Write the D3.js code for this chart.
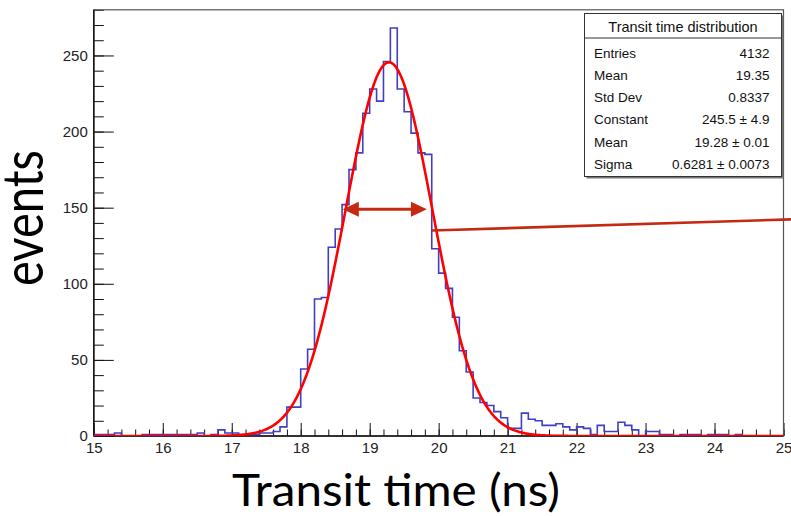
<!DOCTYPE html>
<html>
<head>
<meta charset="utf-8">
<script src="https://cdn.jsdelivr.net/npm/d3@7"></script>
<style>
  html, body { margin: 0; padding: 0; background: #fff; }
  svg { display: block; }
  .tick text { font-family: "Liberation Sans", Arial, sans-serif; fill: #222; }
</style>
</head>
<body>
<svg id="chart" width="791" height="516"></svg>
<script>
// Histogram: 100 bins of 0.1 ns from 15 to 25 ns
const binStart = 15;
const binWidth = 0.1;
const counts = [
  1, 1, 1, 2, 0, 0, 0, 1, 1, 1,
  1, 1, 1, 1, 1, 2, 0, 1, 4, 2,
  2, 1, 1, 1, 2, 2, 3, 6, 19, 19,
  44, 57, 90, 91, 124, 136, 152, 175, 186, 212,
  228, 220, 246, 268, 228, 213, 199, 186, 185, 123,
  107, 97, 78, 56, 42, 25, 22, 20, 16, 12,
  5, 5, 15, 11, 10, 7, 7, 8, 6, 4,
  6, 5, 1, 7, 3, 3, 9, 7, 4, 0,
  3, 3, 1, 1, 0, 1, 1, 1, 0, 1,
  1, 1, 0, 1, 0, 0, 0, 0, 0, 0
];

// Gaussian fit parameters
const fitConstant = 245.5;
const fitMean = 19.28;
const fitSigma = 0.6281;

// Axis ticks
const xMajorTicks = [15, 16, 17, 18, 19, 20, 21, 22, 23, 24, 25];
const yMajorTicks = [0, 50, 100, 150, 200, 250];

// Statistics box
const statsTitle = "Transit time distribution";
const statLabels = ["Entries", "Mean", "Std Dev", "Constant", "Mean", "Sigma"];
const statValues = ["4132", "19.35", "0.8337", "245.5 \u00b1 4.9", "19.28 \u00b1 0.01", "0.6281 \u00b1 0.0073"];

// Annotations (data coordinates)
const widthArrow = { x1: 18.61, x2: 19.83, y: 149 };
const pointerLine = { x1: 19.9, y1: 135, x2: 25.11, y2: 142.3 };

const svg = d3.select("#chart");
const frame = { left: 93.8, right: 783.5, top: 9.8, bottom: 436 };

const x = d3.scaleLinear().domain([15, 25]).range([frame.left, frame.right]);
const y = d3.scaleLinear().domain([0, 280]).range([frame.bottom, frame.top]);

svg.append("defs").append("clipPath").attr("id", "plotClip")
  .append("rect")
  .attr("x", frame.left).attr("y", frame.top)
  .attr("width", frame.right - frame.left).attr("height", frame.bottom - frame.top);

// Minor ticks
const xMinor = d3.range(150, 251, 2).map(v => v / 10);
const yMinor = d3.range(0, 281, 10);

svg.append("g")
  .attr("transform", `translate(0,${frame.bottom})`)
  .call(d3.axisBottom(x).tickValues(xMinor).tickSizeInner(-6.5).tickSizeOuter(0).tickFormat(""))
  .call(g => g.select(".domain").remove())
  .selectAll("line").attr("stroke", "#111");

svg.append("g")
  .attr("transform", `translate(${frame.left},0)`)
  .call(d3.axisLeft(y).tickValues(yMinor).tickSizeInner(-10).tickSizeOuter(0).tickFormat(""))
  .call(g => g.select(".domain").remove())
  .selectAll("line").attr("stroke", "#111");

// Major ticks with labels
const xAxis = svg.append("g")
  .attr("transform", `translate(0,${frame.bottom})`)
  .call(d3.axisBottom(x).tickValues(xMajorTicks).tickSizeInner(-13).tickSizeOuter(0).tickPadding(6).tickFormat(d3.format("d")))
  .call(g => g.select(".domain").remove());
xAxis.selectAll("line").attr("stroke", "#111");
xAxis.selectAll("text").attr("font-size", 15);

const yAxis = svg.append("g")
  .attr("transform", `translate(${frame.left},0)`)
  .call(d3.axisLeft(y).tickValues(yMajorTicks).tickSizeInner(-20).tickSizeOuter(0).tickPadding(6).tickFormat(d3.format("d")))
  .call(g => g.select(".domain").remove());
yAxis.selectAll("line").attr("stroke", "#111");
yAxis.selectAll("text").attr("font-size", 15);

// Frame
svg.append("rect")
  .attr("x", frame.left).attr("y", frame.top)
  .attr("width", frame.right - frame.left).attr("height", frame.bottom - frame.top)
  .attr("fill", "none").attr("stroke", "#555").attr("stroke-width", 1.2);
svg.append("line")
  .attr("x1", frame.left).attr("x2", frame.left).attr("y1", frame.top).attr("y2", frame.bottom)
  .attr("stroke", "#111").attr("stroke-width", 1.5);
svg.append("line")
  .attr("x1", frame.left).attr("x2", frame.right).attr("y1", frame.bottom).attr("y2", frame.bottom)
  .attr("stroke", "#111").attr("stroke-width", 1.5);

// Histogram outline
const histPath = d3.path();
histPath.moveTo(x(binStart), y(0));
counts.forEach((c, i) => {
  const x0 = x(binStart + i * binWidth);
  const x1 = x(binStart + (i + 1) * binWidth);
  histPath.lineTo(x0, y(c));
  histPath.lineTo(x1, y(c));
});
histPath.lineTo(x(binStart + counts.length * binWidth), y(0));

svg.append("path")
  .attr("d", histPath.toString())
  .attr("clip-path", "url(#plotClip)")
  .attr("fill", "none")
  .attr("stroke", "#3f3fc4")
  .attr("stroke-width", 1.6);

// Gaussian fit curve
const gauss = t => fitConstant * Math.exp(-0.5 * Math.pow((t - fitMean) / fitSigma, 2));
const curvePts = d3.range(0, 1001).map(i => 15 + i * 0.01);
svg.append("path")
  .datum(curvePts)
  .attr("clip-path", "url(#plotClip)")
  .attr("d", d3.line().x(t => x(t)).y(t => y(gauss(t))))
  .attr("fill", "none")
  .attr("stroke", "#ff0000")
  .attr("stroke-width", 2.6);

// Width arrow
const arrowColor = "#c42a12";
const ay = y(widthArrow.y);
const ax1 = x(widthArrow.x1), ax2 = x(widthArrow.x2);
const headLen = 16, headHalf = 7.5;
svg.append("line")
  .attr("x1", ax1 + headLen - 2).attr("x2", ax2 - headLen + 2)
  .attr("y1", ay).attr("y2", ay)
  .attr("stroke", arrowColor).attr("stroke-width", 3);
svg.append("path")
  .attr("d", `M${ax1},${ay} L${ax1 + headLen},${ay - headHalf} L${ax1 + headLen},${ay + headHalf} Z`)
  .attr("fill", arrowColor);
svg.append("path")
  .attr("d", `M${ax2},${ay} L${ax2 - headLen},${ay - headHalf} L${ax2 - headLen},${ay + headHalf} Z`)
  .attr("fill", arrowColor);

// Pointer line
svg.append("line")
  .attr("x1", x(pointerLine.x1)).attr("y1", y(pointerLine.y1))
  .attr("x2", x(pointerLine.x2)).attr("y2", y(pointerLine.y2))
  .attr("stroke", arrowColor).attr("stroke-width", 2.6);

// Statistics box
const box = { x: 584.5, y: 13.5, w: 197, h: 163, titleH: 24.5 };
svg.append("rect")
  .attr("x", box.x + 2).attr("y", box.y + 2).attr("width", box.w).attr("height", box.h)
  .attr("fill", "#777");
svg.append("rect")
  .attr("x", box.x).attr("y", box.y).attr("width", box.w).attr("height", box.h)
  .attr("fill", "#fff").attr("stroke", "#333").attr("stroke-width", 1);
svg.append("line")
  .attr("x1", box.x).attr("x2", box.x + box.w)
  .attr("y1", box.y + box.titleH).attr("y2", box.y + box.titleH)
  .attr("stroke", "#333").attr("stroke-width", 1);
svg.append("text")
  .attr("x", box.x + box.w / 2).attr("y", 31.5)
  .attr("text-anchor", "middle")
  .attr("font-family", "'Liberation Sans', Arial, sans-serif")
  .attr("font-size", 14.5).attr("fill", "#111")
  .text(statsTitle);
const rows = svg.append("g")
  .attr("font-family", "'Liberation Sans', Arial, sans-serif")
  .attr("font-size", 13.5).attr("fill", "#111");
statLabels.forEach((lab, i) => {
  const by = 57.5 + i * 22.3;
  rows.append("text").attr("x", 594).attr("y", by).text(lab);
  rows.append("text").attr("x", 769.5).attr("y", by).attr("text-anchor", "end").text(statValues[i]);
});

// Axis titles
svg.append("text")
  .attr("x", 396).attr("y", 506)
  .attr("text-anchor", "middle")
  .attr("font-family", "Lato, 'Open Sans', sans-serif")
  .attr("font-size", 45)
  .attr("textLength", 328).attr("lengthAdjust", "spacingAndGlyphs")
  .attr("fill", "#000")
  .text("Transit time (ns)");

svg.append("text")
  .attr("transform", "translate(43,218) rotate(-90)")
  .attr("text-anchor", "middle")
  .attr("font-family", "Lato, 'Open Sans', sans-serif")
  .attr("font-size", 56)
  .attr("textLength", 136).attr("lengthAdjust", "spacingAndGlyphs")
  .attr("fill", "#000")
  .text("events");
</script>
</body>
</html>
